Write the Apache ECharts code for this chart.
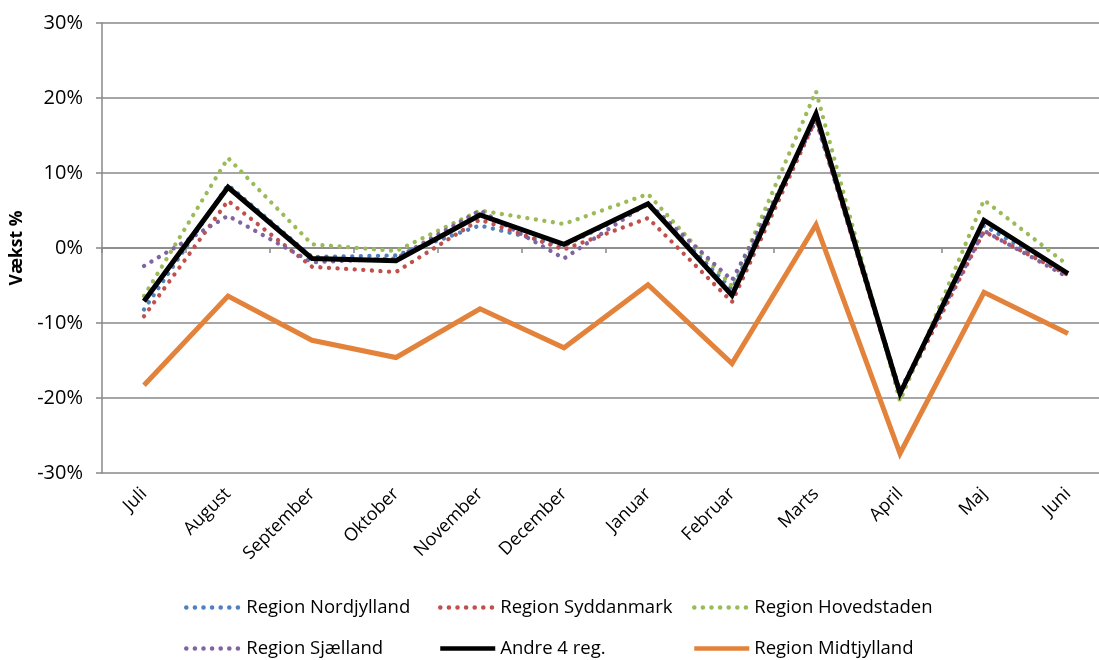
<!DOCTYPE html>
<html>
<head>
<meta charset="utf-8">
<script src="https://cdn.jsdelivr.net/npm/echarts@6/dist/echarts.min.js"></script>
<style>
  html, body { margin: 0; padding: 0; background: #fff; }
  #chartmain { width: 1099px; height: 660px; }
</style>
</head>
<body>
<div id="chartmain"></div>
<script>
// maaneder
var months = ['Juli', 'August', 'September', 'Oktober', 'November', 'December',
              'Januar', 'Februar', 'Marts', 'April', 'Maj', 'Juni'];

// vaekst i procent pr. region
var nordjylland = [-8.2, 8.4, -1.2, -1.0, 3.0, 0.3, 5.8, -5.5, 17.6, -19.3, 3.0, -3.5];
var syddanmark  = [-9.1, 6.3, -2.5, -3.2, 3.8, -0.2, 4.0, -7.2, 17.2, -19.6, 2.2, -3.6];
var hovedstaden = [-6.4, 12.0, 0.5, -0.4, 5.0, 3.2, 7.2, -5.1, 20.9, -20.4, 6.4, -2.3];
var sjaelland   = [-2.4, 4.3, -1.9, -1.4, 5.0, -1.4, 6.0, -4.3, 17.0, -19.0, 2.3, -3.9];
var andre4      = [-7.1, 8.1, -1.4, -1.7, 4.4, 0.5, 5.9, -6.3, 17.9, -19.4, 3.7, -3.4];
var midtjylland = [-18.3, -6.4, -12.3, -14.6, -8.1, -13.3, -4.9, -15.4, 3.1, -27.4, -5.9, -11.4];

var yTicks = { min: -30, max: 30, interval: 10 };

var font = 'Open Sans';

function dotted(name, color, data) {
    return {
        name: name,
        type: 'line',
        data: data,
        symbol: 'none',
        lineStyle: { color: color, width: 4.3, type: [0.1, 8.5], cap: 'round' },
        itemStyle: { color: color },
        z: 2
    };
}
function solid(name, color, data) {
    return {
        name: name,
        type: 'line',
        data: data,
        symbol: 'none',
        lineStyle: { color: color, width: 5, type: 'solid', join: 'miter' },
        itemStyle: { color: color },
        z: 3
    };
}

function legendCol(left, names) {
    return {
        orient: 'vertical',
        left: left,
        top: 598,
        height: 62,
        padding: 0,
        itemWidth: 55,
        itemHeight: 16,
        itemGap: 22,
        itemStyle: { opacity: 0 },
        lineStyle: { width: 4.5 },
        data: names,
        textStyle: { fontFamily: font, fontSize: 18.5, color: '#000' }
    };
}

var myChart = echarts.init(document.getElementById('chartmain'), null, { renderer: 'canvas' });

var option = {
    animation: false,
    backgroundColor: '#fff',
    grid: { left: 102, top: 23, width: 1008, bottom: 187, outerBoundsMode: 'none' },
    legend: [
        legendCol(184, ['Region Nordjylland', 'Region Sjælland']),
        legendCol(438, ['Region Syddanmark', 'Andre 4 reg.']),
        legendCol(692, ['Region Hovedstaden', 'Region Midtjylland'])
    ],
    xAxis: [
        {
            type: 'category',
            data: months,
            position: 'bottom',
            axisLine: { show: false, onZero: false },
            axisTick: { show: false },
            axisLabel: {
                rotate: 45,
                margin: 18,
                fontFamily: font,
                fontSize: 18,
                color: '#000'
            }
        },
        {
            type: 'category',
            data: months,
            position: 'bottom',
            axisLine: { show: true, onZero: true, lineStyle: { color: '#888', width: 1.5 } },
            axisTick: { show: true, length: 5, lineStyle: { color: '#888', width: 1.5 } },
            axisLabel: { show: false }
        }
    ],
    yAxis: {
        type: 'value',
        min: yTicks.min,
        max: yTicks.max,
        interval: yTicks.interval,
        name: 'Vækst %',
        nameLocation: 'middle',
        nameGap: 76,
        nameTextStyle: { fontFamily: font, fontSize: 17.5, fontWeight: 'bold', color: '#000' },
        axisLine: { show: true, lineStyle: { color: '#888', width: 1.5 } },
        axisTick: { show: true, length: 6, lineStyle: { color: '#888', width: 1.5 } },
        axisLabel: {
            formatter: '{value}%',
            margin: 19,
            fontFamily: font,
            fontSize: 20,
            color: '#000'
        },
        splitLine: { show: true, lineStyle: { color: '#888', width: 1.5 } }
    },
    series: [
        dotted('Region Nordjylland', '#4F81BD', nordjylland),
        dotted('Region Syddanmark', '#C0504D', syddanmark),
        dotted('Region Hovedstaden', '#9BBB59', hovedstaden),
        dotted('Region Sjælland', '#8064A2', sjaelland),
        solid('Andre 4 reg.', '#000000', andre4),
        solid('Region Midtjylland', '#E3823A', midtjylland)
    ]
};

myChart.setOption(option);
</script>
</body>
</html>
